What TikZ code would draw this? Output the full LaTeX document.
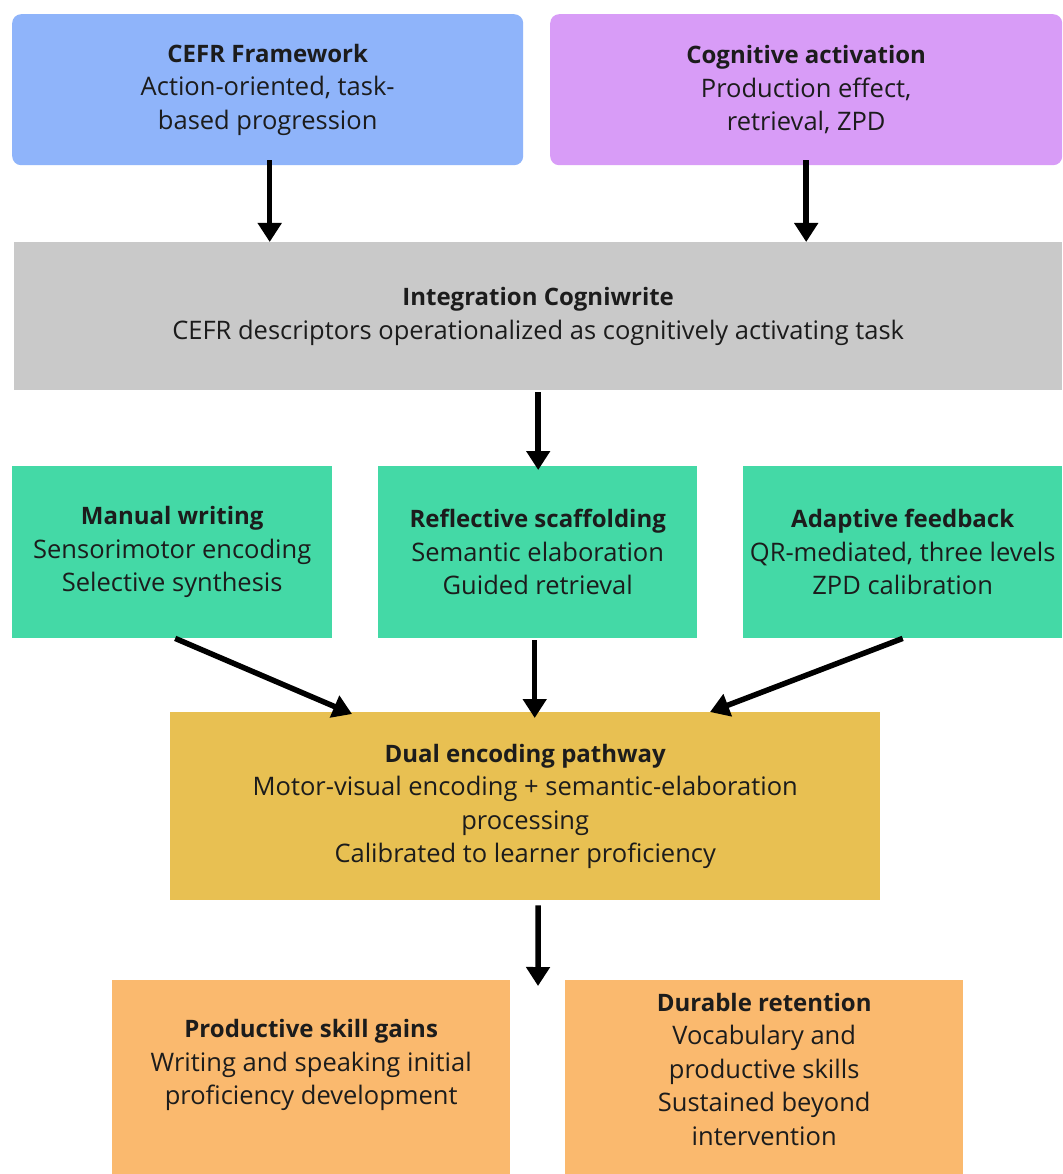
\documentclass[tikz,border=0pt]{standalone}
\usepackage{fontspec}
\setmainfont{Open Sans}
\usetikzlibrary{arrows.meta,calc}
\definecolor{cblue}{RGB}{143,180,250}
\definecolor{cpurple}{RGB}{216,156,247}
\definecolor{cgray}{RGB}{201,201,201}
\definecolor{cgreen}{RGB}{68,217,166}
\definecolor{cgold}{RGB}{232,192,82}
\definecolor{corange}{RGB}{250,185,110}
\definecolor{ctext}{RGB}{28,28,28}
\newcommand{\ttl}[1]{{\fontsize{24}{33.5}\selectfont\bfseries #1}}
\begin{document}
\begin{tikzpicture}[x=1pt,y=-1pt,
  box/.style={anchor=north west, inner sep=0pt, align=center, text=ctext,
    font=\fontsize{25.5}{33.5}\selectfont},
  arr/.style={line width=5.5pt, -{Triangle[width=23pt,length=19pt]}, black}]
\useasboundingbox[fill=white] (0,0) rectangle (1062,1174);
% top row
\node[box, fill=cblue, rounded corners=9pt, minimum width=511pt, minimum height=151pt] (cefr) at (12,14)
  {\ttl{CEFR Framework}\\Action-oriented, task-\\based progression};
\node[box, fill=cpurple, rounded corners=9pt, minimum width=512pt, minimum height=151pt] (cog) at (550,14)
  {\ttl{Cognitive activation}\\Production effect,\\retrieval, ZPD};
% integration
\node[box, fill=cgray, minimum width=1048pt, minimum height=148pt] (integ) at (14,242)
  {\ttl{Integration Cogniwrite}\\CEFR descriptors operationalized as cognitively activating task};
% green row
\node[box, fill=cgreen, minimum width=320pt, minimum height=172pt] (manual) at (12,466)
  {\ttl{Manual writing}\\Sensorimotor encoding\\Selective synthesis};
\node[box, fill=cgreen, minimum width=319pt, minimum height=172pt] (refl) at (378,466)
  {\ttl{Reflective scaffolding}\\Semantic elaboration\\Guided retrieval};
\node[box, fill=cgreen, minimum width=319pt, minimum height=172pt] (adapt) at (743,466)
  {\ttl{Adaptive feedback}\\QR-mediated, three levels\\ZPD calibration};
% dual
\node[box, fill=cgold, minimum width=710pt, minimum height=188pt] (dual) at (170,712)
  {\ttl{Dual encoding pathway}\\Motor-visual encoding + semantic-elaboration\\processing\\Calibrated to learner proficiency};
% bottom
\node[box, fill=corange, minimum width=398pt, minimum height=200pt] (prod) at (112,980) {};
\node[box, anchor=center] (prodt) at ($(prod.north)+(0,85)$)
  {\ttl{Productive skill gains}\\Writing and speaking initial\\proficiency development};
\node[box, fill=corange, minimum width=398pt, minimum height=200pt] (dur) at (565,980) {};
\node[box, anchor=center] (durt) at ($(dur.north)+(0,89)$)
  {\ttl{Durable retention}\\Vocabulary and\\productive skills\\Sustained beyond\\intervention};
% arrows
\draw[arr] ($(cefr.south)+(2,-5)$) -- ($(cefr.south |- integ.north)+(2,0)$);
\draw[arr] ($(cog.south)+(0,-5)$) -- ($(cog.south |- integ.north)+(0,0)$);
\draw[arr] ($(integ.south)+(0,2)$) -- ($(integ.south |- refl.north)+(0,4)$);
\draw[arr] ($(manual.south)+(3,0)$) -- ($(dual.north west)+(182,2)$);
\draw[arr] ($(refl.south)+(-3,2)$) -- ($(refl.south |- dual.north)+(-3,6)$);
\draw[arr] ($(adapt.south)+(0,0)$) -- ($(dual.north west)+(540,0)$);
\coordinate (endp) at (538,986);
\draw[arr] ($(dual.south)+(13,5)$) -- (endp);
\end{tikzpicture}
\end{document}
